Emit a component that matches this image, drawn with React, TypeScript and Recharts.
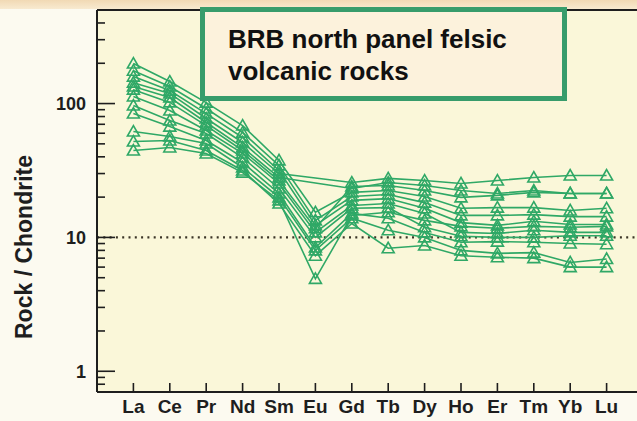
import React from "react";
import {
  CartesianGrid,
  Line,
  LineChart,
  ReferenceLine,
  XAxis,
  YAxis,
} from "recharts";

const ELEMENTS = ["La", "Ce", "Pr", "Nd", "Sm", "Eu", "Gd", "Tb", "Dy", "Ho", "Er", "Tm", "Yb", "Lu"];

// chondrite-normalised values, one array per sample (La → Lu); null = not analysed
const S1 = [199, 146, 101.7, 68.5, 37.6, 15.4, 21.7, 22.4, 20.2, 16.5, 16.7, 16.7, 15.9, 16.5];
const S2 = [176, 134, 91.8, 60.7, 34.5, 13.4, 20.2, 20.9, 18.2, 14.6, 14.6, 14.8, 14.3, 14.3];
const S3 = [159, 125, 84.2, 55.8, 31.6, 12.3, 18.9, 19.5, 16.5, 12.9, 12.3, 13.2, 12.5, 12.5];
const S4 = [143, 119, 77.3, 51.2, 30.0, null, 25.7, 27.6, 26.6, 25.3, 26.6, 28.0, 29.0, 29.0];
const S5 = [134, 111, 72.2, 47.0, 28.0, null, 23.2, 25.7, 24.4, 22.4, 21.3, 22.4, 21.3, 21.3];
const S6 = [127, 102, 68.5, 44.6, 26.6, 11.7, 24.0, 24.4, 22.4, 19.9, 20.6, 21.7, 21.3, 21.3];
const S7 = [113, 88.7, 62.9, 42.4, 25.3, 10.9, 17.3, 17.9, 15.1, 10.9, 10.7, 11.3, 10.9, 10.9];
const S8 = [96.6, 74.7, 59.7, 39.5, 23.2, 10.0, 16.5, 16.7, 11.9, 10.2, 10.0, 10.0, 10.3, 10.3];
const S9 = [84.2, 67.3, 53.0, 36.3, 21.3, 8.4, 15.1, 13.9, 10.9, 9.2, 9.3, 9.2, 9.0, 8.9];
const S10 = [61.8, 56.7, 50.3, 33.3, 19.9, 8.0, 13.9, 11.3, 10.0, 8.0, 7.6, 7.7, 6.5, 6.9];
const S11 = [52.0, 53.0, 44.6, 31.6, 17.9, 7.3, 12.7, 8.3, 8.7, 7.3, 7.1, 7.0, 6.0, 6.0];
const S12 = [44.6, 47.0, 42.4, 30.5, 18.9, 4.9, 14.6, 15.4, 13.4, 12.1, 11.7, 12.1, 11.9, 12.1];

const SAMPLES = [S1, S2, S3, S4, S5, S6, S7, S8, S9, S10, S11, S12];

const MAJOR_TICKS = [1, 10, 100];
const Y_TICKS = [0.8, 0.9, 1, 2, 3, 4, 5, 6, 7, 8, 9, 10, 20, 30, 40, 50, 60, 70, 80, 90, 100, 200, 300, 400];

const GREEN = "#2fa866";
const INK = "#1e1e1e";
const FONT = "'Liberation Sans', Arial, Helvetica, sans-serif";

const data = ELEMENTS.map((el, i) => {
  const row: Record<string, number | string | null> = { el, x: i };
  SAMPLES.forEach((s, k) => {
    row[`s${k + 1}`] = s[i];
  });
  return row;
});

function Triangle(props: any) {
  const { cx, cy, value, index } = props;
  if (value == null || cx == null || cy == null) return <g key={index} />;
  const pts = `${cx},${cy - 6} ${cx - 6},${cy + 4.5} ${cx + 6},${cy + 4.5}`;
  return <polygon key={index} points={pts} fill="none" stroke={GREEN} strokeWidth={1.6} />;
}

function YTick(props: any) {
  const { x, y, payload } = props;
  const v = payload.value;
  const major = MAJOR_TICKS.includes(v);
  return (
    <g>
      <line x1={x} y1={y} x2={x + (major ? 18 : 8)} y2={y} stroke={INK} strokeWidth={1.6} />
      {major ? (
        <text x={x - 11} y={y} dy="0.36em" textAnchor="end" fontSize={18} fontWeight={700} fill={INK} fontFamily={FONT}>
          {v}
        </text>
      ) : null}
    </g>
  );
}

function XTick(props: any) {
  const { x, y, payload } = props;
  return (
    <g>
      <line x1={x} y1={y} x2={x} y2={y - 9} stroke={INK} strokeWidth={1.6} />
      <text x={x} y={y + 21} textAnchor="middle" fontSize={19} fontWeight={700} fill={INK} fontFamily={FONT}>
        {ELEMENTS[payload.value]}
      </text>
    </g>
  );
}

function YLabel() {
  return (
    <text
      x={0}
      y={0}
      transform="translate(32, 247) rotate(-90)"
      textAnchor="middle"
      fontSize={23}
      fontWeight={700}
      fill={INK}
      fontFamily={FONT}
    >
      Rock / Chondrite
    </text>
  );
}

export default function App() {
  return (
    <div
      style={{
        position: "absolute",
        left: 0,
        top: 0,
        width: 637,
        height: 421,
        background: "#fcfaf0",
        fontFamily: FONT,
        overflow: "hidden",
      }}
    >
      <div style={{ position: "absolute", left: 0, top: 0, width: 637, height: 9, background: "linear-gradient(#f1d9b4, #f8ead0)" }} />
      <LineChart width={637} height={421} data={data} margin={{ top: 10, right: 0, bottom: 0, left: 0 }}>
        <CartesianGrid fill="#faf7d9" horizontal={false} vertical={false} stroke="none" />
        <XAxis
          dataKey="x"
          type="number"
          domain={[-1, 13.835]}
          ticks={[0, 1, 2, 3, 4, 5, 6, 7, 8, 9, 10, 11, 12, 13]}
          allowDataOverflow
          height={29}
          tickSize={0}
          tickMargin={0}
          tickLine={false}
          axisLine={{ stroke: INK, strokeWidth: 2 }}
          tick={<XTick />}
          interval={0}
        />
        <YAxis
          type="number"
          scale="log"
          domain={[0.7, 500]}
          allowDataOverflow
          ticks={Y_TICKS}
          width={97}
          tickSize={0}
          tickMargin={0}
          tickLine={false}
          axisLine={{ stroke: INK, strokeWidth: 2 }}
          tick={<YTick />}
          interval={0}
          label={{ content: () => <YLabel /> }}
        />
        <ReferenceLine y={500} stroke={INK} strokeWidth={2} />
        <ReferenceLine y={10} stroke="#3a3426" strokeWidth={2.2} strokeDasharray="2 4.3" />
        {SAMPLES.map((_, k) => (
          <Line
            key={k}
            dataKey={`s${k + 1}`}
            stroke={GREEN}
            strokeWidth={1.6}
            dot={Triangle}
            activeDot={false}
            connectNulls
            isAnimationActive={false}
            type="linear"
          />
        ))}
      </LineChart>
      <div
        style={{
          position: "absolute",
          left: 200,
          top: 7,
          width: 357,
          height: 84,
          border: "5px solid #379c6b",
          background: "#fcf2dc",
          boxSizing: "content-box",
        }}
      >
        <div
          style={{
            position: "absolute",
            left: 23,
            top: 11,
            fontSize: 26,
            fontWeight: 700,
            lineHeight: "32px",
            color: "#111",
            whiteSpace: "nowrap",
          }}
        >
          BRB north panel felsic
          <br />
          volcanic rocks
        </div>
      </div>
    </div>
  );
}
